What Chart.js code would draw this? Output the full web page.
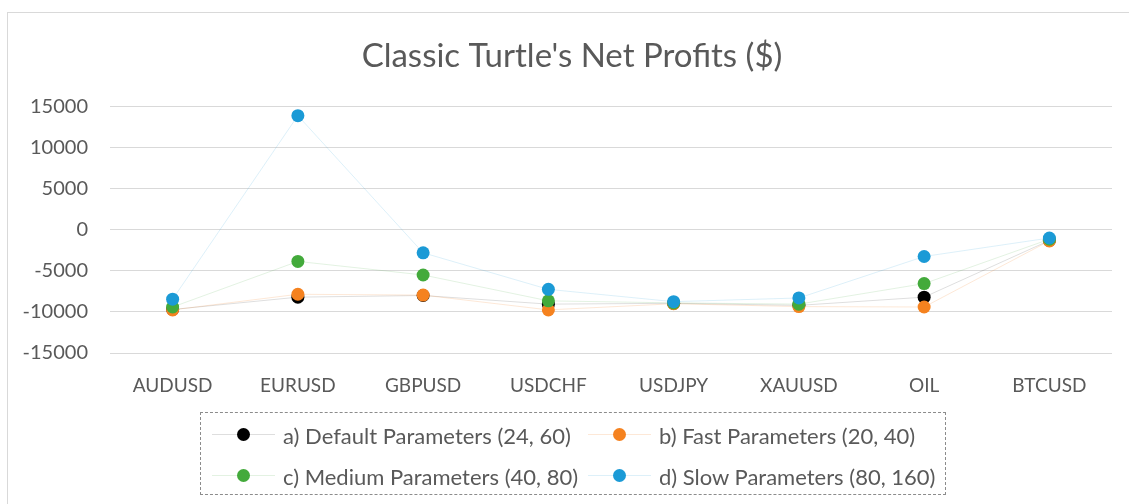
<!DOCTYPE html>
<html>
<head>
<meta charset="utf-8">
<script src="https://cdn.jsdelivr.net/npm/chart.js"></script>
<style>
body { margin:0; background:#fff; overflow:hidden; }
#wrap { position:relative; width:1129px; height:504px; overflow:hidden; font-family:Lato, sans-serif; }
#frame { position:absolute; left:7px; top:12px; width:1200px; height:600px; border:1px solid #d9d9d9; }
#chart { position:absolute; left:0; top:0; }
#legend { position:absolute; left:200px; top:412px; width:746px; height:83px; border:1px dashed #8c8c8c; box-sizing:border-box; }
.item { position:absolute; height:26px; display:flex; align-items:center; font-size:22px; color:#595959; white-space:nowrap; }
.mark { position:relative; width:63px; height:14px; margin-right:8px; }
.mark .ln { position:absolute; left:0; right:0; top:6px; height:1px; }
.mark .dot { position:absolute; left:25px; top:0; width:13px; height:13px; border-radius:50%; }
</style>
</head>
<body>
<div id="wrap">
  <div id="frame"></div>
  <canvas id="chart" width="1129" height="504"></canvas>
  <div id="legend"></div>
</div>
<script>
var labels = ['AUDUSD', 'EURUSD', 'GBPUSD', 'USDCHF', 'USDJPY', 'XAUUSD', 'OIL', 'BTCUSD'];
var defaultParams = [-9700, -8200, -8000, -9050, -8950, -9200, -8200, -1300];
var fastParams = [-9750, -7850, -7950, -9750, -9000, -9350, -9400, -1350];
var mediumParams = [-9400, -3850, -5500, -8650, -8900, -9050, -6550, -1150];
var slowParams = [-8450, 13900, -2800, -7250, -8750, -8300, -3250, -1000];
var seriesNames = ['a) Default Parameters (24, 60)', 'b) Fast Parameters (20, 40)', 'c) Medium Parameters (40, 80)', 'd) Slow Parameters (80, 160)'];
var yTicks = [15000, 10000, 5000, 0, -5000, -10000, -15000];

var textColor = '#595959';

function ds(name, data, color, line, order) {
    return {
        label: name,
        data: data,
        borderColor: line,
        borderWidth: 1,
        backgroundColor: color,
        pointBackgroundColor: color,
        pointBorderColor: color,
        pointRadius: 6.5,
        pointBorderWidth: 0,
        tension: 0,
        fill: false,
        order: order,
        markColor: color
    };
}

var chart = new Chart(document.getElementById('chart'), {
    type: 'line',
    data: {
        labels: labels,
        datasets: [
            ds(seriesNames[0], defaultParams, '#000000', 'rgba(0,0,0,0.13)', 4),
            ds(seriesNames[1], fastParams, '#f5821f', 'rgba(245,130,31,0.18)', 3),
            ds(seriesNames[2], mediumParams, '#43aa3b', 'rgba(67,170,59,0.15)', 2),
            ds(seriesNames[3], slowParams, '#1b9ad6', 'rgba(27,154,214,0.15)', 1)
        ]
    },
    options: {
        responsive: false,
        animation: false,
        devicePixelRatio: 1,
        layout: { padding: { left: 15, right: 0, top: 12, bottom: 0 } },
        plugins: {
            legend: { display: false },
            tooltip: { enabled: false },
            title: {
                display: true,
                text: "Classic Turtle's Net Profits ($)",
                color: textColor,
                font: { family: 'Lato', size: 33, weight: 'normal' },
                padding: { top: 25, bottom: 30 }
            }
        },
        scales: {
            x: {
                offset: true,
                grid: { display: false },
                border: { display: false },
                ticks: { color: textColor, font: { family: 'Lato', size: 19 }, padding: 13, maxRotation: 0 },
                afterFit: function(s) { s.height = 151; }
            },
            y: {
                min: yTicks[yTicks.length - 1],
                max: yTicks[0],
                border: { display: false },
                grid: { color: '#d9d9d9', lineWidth: 1, drawTicks: false },
                ticks: {
                    stepSize: 5000,
                    color: textColor,
                    font: { family: 'Lato', size: 20 },
                    padding: 22,
                    callback: function(v) { return String(v); }
                },
                afterFit: function(s) { s.width = 95; }
            },
            yRight: {
                position: 'right',
                grid: { display: false },
                border: { display: false },
                ticks: { display: false },
                afterFit: function(s) { s.width = 17; }
            }
        }
    }
});

var legendBox = document.getElementById('legend');
var cols = [11, 387];
var rows = [9, 50];
chart.data.datasets.forEach(function(d, i) {
    var item = document.createElement('div');
    item.className = 'item';
    item.style.left = cols[i % 2] + 'px';
    item.style.top = rows[Math.floor(i / 2)] + 'px';
    item.innerHTML = '<span class="mark"><span class="ln" style="background:' + d.borderColor + '"></span>' +
        '<span class="dot" style="background:' + d.markColor + '"></span></span><span>' + d.label + '</span>';
    legendBox.appendChild(item);
});
</script>
</body>
</html>
